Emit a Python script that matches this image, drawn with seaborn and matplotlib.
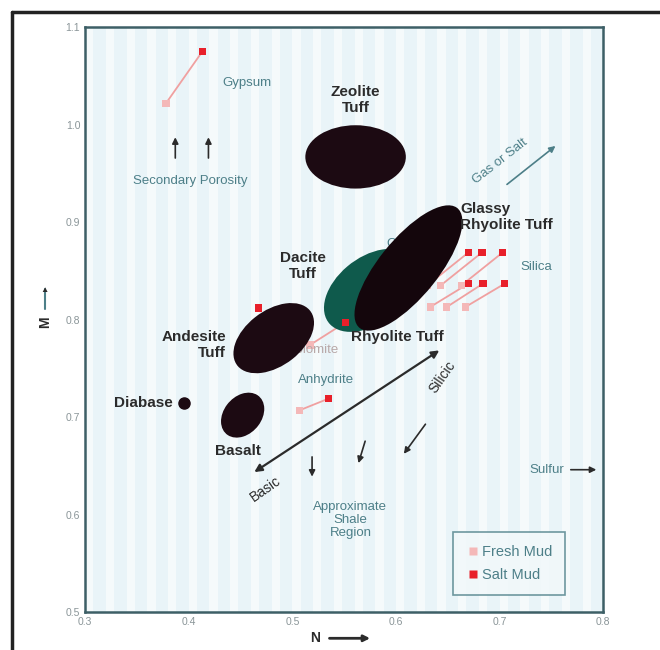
import numpy as np
import pandas as pd
import matplotlib
matplotlib.use("Agg")
import matplotlib.pyplot as plt
from matplotlib.patches import Ellipse
from matplotlib.lines import Line2D
import seaborn as sns

# rock zones (ellipses)
zone_names = ["Zeolite Tuff", "Dacite Tuff", "Glassy Rhyolite Tuff", "Andesite Tuff", "Basalt"]
zone_n = [0.561, 0.575, 0.612, 0.482, 0.452]
zone_m = [0.967, 0.830, 0.853, 0.781, 0.702]
zone_w = [0.097, 0.104, 0.155, 0.090, 0.050]
zone_h = [0.065, 0.066, 0.058, 0.056, 0.037]
zone_ang = [0, 42, 53, 40, 55]
zone_col = ["#1c0a12", "#0f5a4c", "#14060c", "#1c0a12", "#1c0a12"]

# minerals: fresh mud -> salt mud
mineral = ["Gypsum", "Anhydrite", "Dolomite",
           "Silica", "Silica", "Silica", "Silica", "Silica", "Silica"]
fresh_n = [0.378, 0.507, 0.517, 0.630, 0.643, 0.663, 0.633, 0.649, 0.667]
fresh_m = [1.022, 0.707, 0.774, 0.835, 0.835, 0.835, 0.813, 0.813, 0.813]
salt_n = [0.413, 0.535, 0.551, 0.670, 0.683, 0.703, 0.670, 0.684, 0.705]
salt_m = [1.075, 0.719, 0.797, 0.869, 0.869, 0.869, 0.837, 0.837, 0.837]
extra_salt_n = [0.467]
extra_salt_m = [0.812]

diabase_n, diabase_m = 0.395, 0.714

sns.set_style("white")
plt.rcParams['font.family'] = ['Liberation Sans', 'DejaVu Sans']

fig = plt.figure(figsize=(6.6, 6.5), dpi=100)
ax = fig.add_axes([0.129, 0.0585, 0.785, 0.8995])
ax.set_facecolor("#e9f4f8")

# faint scan stripes in the background
for xs in np.arange(0.3, 0.8, 0.02):
    ax.axvspan(xs, xs + 0.008, color="white", alpha=0.55, lw=0, zorder=0)

for i in range(len(zone_names)):
    e = Ellipse((zone_n[i], zone_m[i]), zone_w[i], zone_h[i], angle=zone_ang[i],
                facecolor=zone_col[i], edgecolor="none", zorder=4 if i != 1 else 3)
    ax.add_patch(e)

ax.plot(diabase_n, diabase_m, "o", color="#1c0a12", ms=8, zorder=4)

# connecting lines
for i in range(len(mineral)):
    ax.plot([fresh_n[i], salt_n[i]], [fresh_m[i], salt_m[i]], color="#f0a0a0",
            lw=1.3, zorder=2)

df = pd.DataFrame({
    "N": fresh_n + salt_n + extra_salt_n,
    "M": fresh_m + salt_m + extra_salt_m,
    "Mud": ["Fresh Mud"] * len(fresh_n) + ["Salt Mud"] * (len(salt_n) + len(extra_salt_n)),
})
sns.scatterplot(data=df, x="N", y="M", hue="Mud", style="Mud",
                palette={"Fresh Mud": "#f4b8b8", "Salt Mud": "#e8202a"},
                markers={"Fresh Mud": "s", "Salt Mud": "s"},
                s=28, edgecolor="none", ax=ax, zorder=3)

dark = "#2b2b2b"
teal = "#4d7f88"
bold = dict(color=dark, fontsize=11, fontweight="bold", zorder=6)
thin = dict(color=teal, fontsize=9.5, zorder=6)

ax.text(0.561, 1.025, "Zeolite\nTuff", ha="center", va="center", **bold)
ax.text(0.662, 0.905, "Glassy\nRhyolite Tuff", ha="left", va="center", **bold)
ax.text(0.510, 0.855, "Dacite\nTuff", ha="center", va="center", **bold)
ax.text(0.436, 0.774, "Andesite\nTuff", ha="right", va="center", **bold)
ax.text(0.557, 0.782, "Rhyolite Tuff", ha="left", va="center", **bold)
ax.text(0.385, 0.714, "Diabase", ha="right", va="center", **bold)
ax.text(0.447, 0.665, "Basalt", ha="center", va="center", **bold)

ax.text(0.432, 1.043, "Gypsum", ha="left", va="center", **thin)
ax.text(0.401, 0.942, "Secondary Porosity", ha="center", va="center", **thin)
ax.text(0.532, 0.738, "Anhydrite", ha="center", va="center", **thin)
ax.text(0.520, 0.769, "Dolomite", ha="center", va="center", color="#b8a8a8",
        fontsize=9.5, zorder=3)
ax.text(0.610, 0.878, "Calcite", ha="center", va="center", color=teal,
        fontsize=9.5, zorder=2)
ax.text(0.720, 0.854, "Silica", ha="left", va="center", **thin)
ax.text(0.556, 0.594, "Approximate\nShale\nRegion", ha="center", va="center",
        linespacing=1.1, **thin)
ax.text(0.700, 0.962, "Gas or Salt", ha="center", va="center", rotation=38, **thin)
ax.text(0.762, 0.646, "Sulfur", ha="right", va="center", **thin)
ax.text(0.474, 0.626, "Basic", ha="center", va="center", rotation=35,
        color=dark, fontsize=10, zorder=6)
ax.text(0.645, 0.741, "Silicic", ha="center", va="center", rotation=55,
        color=dark, fontsize=10, zorder=6)

arr = dict(arrowstyle="-|>", color=dark, lw=1.2, mutation_scale=9)
for x0 in [0.387, 0.419]:
    ax.annotate("", xy=(x0, 0.990), xytext=(x0, 0.963), arrowprops=arr, zorder=6)
ax.annotate("", xy=(0.756, 0.980), xytext=(0.705, 0.937),
            arrowprops=dict(arrowstyle="-|>", color=teal, lw=1.2, mutation_scale=9))
ax.annotate("", xy=(0.644, 0.770), xytext=(0.461, 0.642),
            arrowprops=dict(arrowstyle="<|-|>", color=dark, lw=1.6, mutation_scale=11))
ax.annotate("", xy=(0.519, 0.636), xytext=(0.519, 0.662), arrowprops=arr)
ax.annotate("", xy=(0.563, 0.650), xytext=(0.571, 0.678), arrowprops=arr)
ax.annotate("", xy=(0.606, 0.660), xytext=(0.630, 0.695), arrowprops=arr)
ax.annotate("", xy=(0.796, 0.646), xytext=(0.766, 0.646), arrowprops=arr)

ax.set_xlim(0.3, 0.8)
ax.set_ylim(0.5, 1.1)
ax.set_xticks([0.3, 0.4, 0.5, 0.6, 0.7, 0.8])
ax.set_yticks([0.5, 0.6, 0.7, 0.8, 0.9, 1.0, 1.1])
ax.tick_params(labelsize=7.5, labelcolor="#8a9598", length=3, direction="in",
               color="#3d5f66")
ax.set_xlabel("")
ax.set_ylabel("")
for s in ax.spines.values():
    s.set_color("#3d5f66")
    s.set_linewidth(1.8)

leg = ax.legend(loc="lower right", bbox_to_anchor=(0.927, 0.029), fontsize=10.5,
                frameon=True, fancybox=False, handletextpad=0.15,
                handlelength=0.9, borderpad=0.9, labelspacing=0.6,
                borderaxespad=0)
leg.get_frame().set_edgecolor(teal)
leg.get_frame().set_facecolor("#f2f8fa")
leg.get_frame().set_linewidth(1.2)
for t in leg.get_texts():
    t.set_color(teal)

# axis names with arrows
fig.text(0.068, 0.505, "M", rotation=90, ha="center", va="center",
         fontsize=10, fontweight="bold", color=dark)
fig.add_artist(Line2D([0.068, 0.068], [0.525, 0.555], color=teal, lw=1.5))
fig.text(0.068, 0.553, "\u25b2", ha="center", va="center", fontsize=6, color=dark)
fig.text(0.478, 0.018, "N", ha="center", va="center", fontsize=10,
         fontweight="bold", color=dark)
ax.annotate("", xy=(0.565, 0.018), xytext=(0.495, 0.018), xycoords="figure fraction",
            arrowprops=dict(arrowstyle="-|>", color=dark, lw=2, mutation_scale=9))

# scan frame
fig.add_artist(Line2D([0.018, 1.0], [0.982, 0.982], color="#222222", lw=2.5))
fig.add_artist(Line2D([0.018, 0.018], [0.0, 0.982], color="#222222", lw=2.5))

fig.savefig("out.png", dpi=100)
